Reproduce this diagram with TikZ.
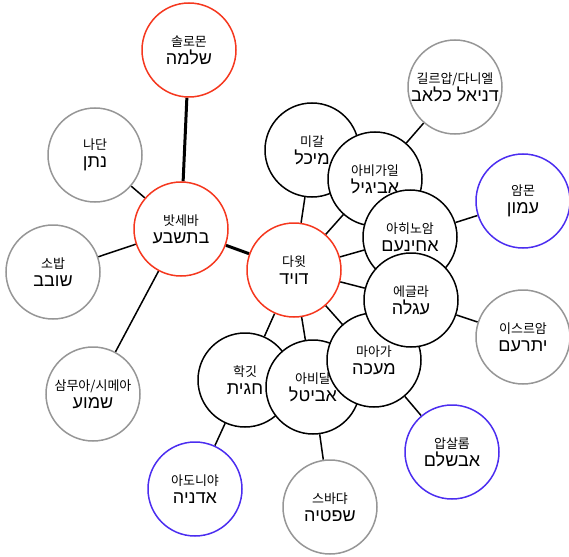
\documentclass[tikz,border=0pt]{standalone}
\usepackage{fontspec}
\newfontfamily\korfont{Noto Sans CJK KR}
\newfontfamily\hebfont[Script=Hebrew]{Liberation Sans}
\TeXXeTstate=1
\usetikzlibrary{backgrounds}
\definecolor{royalred}{RGB}{245,55,30}
\definecolor{heirblue}{RGB}{75,45,240}
\definecolor{songray}{RGB}{150,150,150}
\newcommand{\kor}[1]{{\korfont\fontsize{13}{13}\selectfont #1}}
\newcommand{\ppl}[2]{\kor{#1}\\{\hebfont\beginR #2\endR}}

\begin{document}
\begin{tikzpicture}[x=1pt, y=-1pt,
  person/.style={circle, draw, line width=1.5pt, fill=white, minimum size=94pt, inner sep=0pt, align=center,
    font=\fontsize{18}{18}\selectfont},
  royal/.style={person, draw=royalred},
  wife/.style={person, draw=black},
  heir/.style={person, draw=heirblue},
  son/.style={person, draw=songray},
  link/.style={line width=1.5pt},
  bond/.style={line width=3pt}]
  \useasboundingbox (0,0) rectangle (569,556);
  % Bathsheba's side
  \node[royal] (sol) at (189,50) {\ppl{솔로몬}{שלמה}};
  \node[son] (nat) at (95,155) {\ppl{나단}{נתן}};
  \node[royal] (bat) at (181,229) {\ppl{밧세바}{בתשבע}};
  \node[son] (sho) at (53,272) {\ppl{소밥}{שובב}};
  \node[son] (sha) at (93,394) {\ppl{삼무아/시메아}{שמוע}};

  % David and his wives
  \node[royal] (dav) at (294,270) {\ppl{다윗}{דויד}};
  \node[wife] (mic) at (312,150) {\ppl{미갈}{מיכל}};
  \node[wife] (abg) at (375,179) {\ppl{아비가일}{אביגיל}};
  \node[wife] (ahi) at (410,237) {\ppl{아히노암}{אחינעם}};
  \node[wife] (hag) at (245,380) {\ppl{학깃}{חגית}};
  \node[wife] (abt) at (313,387) {\ppl{아비달}{אביטל}};
  \node[wife] (maa) at (374,360) {\ppl{마아가}{מעכה}};
  \node[wife] (egl) at (411,300) {\ppl{에글라}{עגלה}};

  % sons of the other wives
  \node[son] (dan) at (455,87) {\kor{길르압/다니엘}\\{\hebfont\beginR דניאל כלאב\endR}};
  \node[heir] (amn) at (523,201) {\ppl{암몬}{עמון}};
  \node[son] (ith) at (523,337) {\ppl{이스르암}{יתרעם}};
  \node[heir] (abs) at (452,452) {\ppl{압살롬}{אבשלם}};
  \node[son] (shp) at (330,507) {\ppl{스바댜}{שפטיה}};
  \node[heir] (ado) at (195,489) {\ppl{아도니야}{אדניה}};

  \begin{scope}[on background layer]
    \draw[bond] (sol) -- (bat);
    \draw[bond] (bat) -- (dav);
    \draw[link] (nat) -- (bat);
    \draw[link] (sho) -- (bat);
    \draw[link] (sha) -- (bat);
    \draw[link] (dav) -- (mic);
    \draw[link] (dav) -- (abg);
    \draw[link] (dav) -- (ahi);
    \draw[link] (dav) -- (egl);
    \draw[link] (dav) -- (maa);
    \draw[link] (dav) -- (abt);
    \draw[link] (dav) -- (hag);
    \draw[link] (abg) -- (dan);
    \draw[link] (ahi) -- (amn);
    \draw[link] (egl) -- (ith);
    \draw[link] (maa) -- (abs);
    \draw[link] (abt) -- (shp);
    \draw[link] (hag) -- (ado);
  \end{scope}
\end{tikzpicture}
\end{document}
